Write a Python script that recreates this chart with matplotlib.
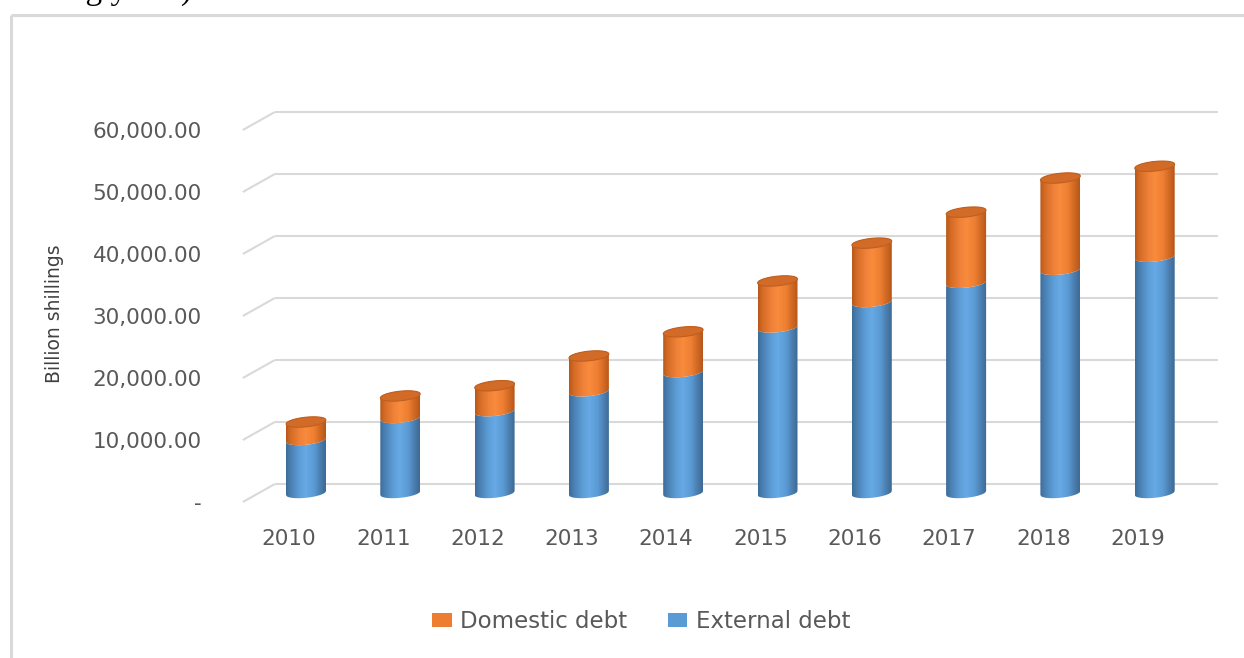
import numpy as np
import matplotlib
matplotlib.use("Agg")
import matplotlib.pyplot as plt
from matplotlib.patches import Polygon, Patch
from matplotlib.lines import Line2D
from matplotlib.colors import LinearSegmentedColormap
from matplotlib.transforms import ScaledTranslation

# ---- data (billion shillings) ----
years = ["2010", "2011", "2012", "2013", "2014", "2015", "2016", "2017", "2018", "2019"]
external_debt = [8550, 12100, 13200, 16400, 19500, 26700, 30800, 33900, 36000, 38100]
domestic_debt = [2900, 3550, 4100, 5700, 6500, 7500, 9500, 11400, 14800, 14600]
tick_values = [0, 10000, 20000, 30000, 40000, 50000, 60000]
tick_labels = ["-", "10,000.00", "20,000.00", "30,000.00", "40,000.00", "50,000.00", "60,000.00"]

W, H, DPI = 1244, 658, 100
fig = plt.figure(figsize=(W / DPI, H / DPI), dpi=DPI)
fig.patch.set_facecolor("white")

# plot area in pixels (bar plane); value 0 sits at pixel row 493
XMIN, XMAX, YMIN, YMAX = -0.5, 9.5, -2000, 63000
scale = 390.6 / 63000                      # pixels per unit of value
ax_l, ax_r = 258.85, 1201.85
ax_b = 493.0 - YMIN * scale
ax_t = 493.0 - YMAX * scale
ax = fig.add_axes([ax_l / W, (H - ax_b) / H, (ax_r - ax_l) / W, (ax_b - ax_t) / H])
ax.set_xlim(XMIN, XMAX)
ax.set_ylim(YMIN, YMAX)
for s in ax.spines.values():
    s.set_visible(False)
ax.set_facecolor("none")

px_x = (XMAX - XMIN) / (ax_r - ax_l)     # data units per pixel (x)
px_y = 1.0 / scale                       # data units per pixel (y)

# depth offsets: back wall is up/right, front edge down/left
dx, dy = 16 * px_x, 9 * px_y
grid_c = "#D9D9D9"
for v in tick_values:
    ax.plot([XMIN + dx, XMAX + dx], [v + dy, v + dy], color=grid_c, lw=1.5,
            clip_on=False, zorder=1, solid_capstyle="butt")
    ax.plot([XMIN - dx, XMIN + dx], [v - dy, v + dy], color=grid_c, lw=1.5,
            clip_on=False, zorder=1, solid_capstyle="butt")

# ---- cylinders ----
blue_cmap = LinearSegmentedColormap.from_list(
    "blue_cyl", [(0.0, "#3C6B97"), (0.12, "#4A80B3"), (0.35, "#5E9FD9"),
                 (0.5, "#66A9E4"), (0.7, "#5B9BD5"), (0.9, "#4777A6"), (1.0, "#3D6A95")])
orange_cmap = LinearSegmentedColormap.from_list(
    "orange_cyl", [(0.0, "#B8581A"), (0.12, "#D46C25"), (0.35, "#F0823A"),
                   (0.5, "#F98B3C"), (0.7, "#EE7F33"), (0.9, "#C9631F"), (1.0, "#B5561B")])

hw = 20 * px_x          # half width of a cylinder
ey = 4.8 * px_y         # half height of the cap ellipse
tilt = 2.0 * px_y       # slight perspective tilt of the ellipses
u = np.linspace(-1, 1, 60)
grad = np.linspace(0, 1, 256).reshape(1, -1)


def front_arc(c, v, uu):
    return np.column_stack([c + hw * uu, v - ey * np.sqrt(1 - uu ** 2) + tilt * uu])


def back_arc(c, v, uu):
    return np.column_stack([c + hw * uu, v + ey * np.sqrt(1 - uu ** 2) + tilt * uu])


def segment(c, a, b, cmap, top):
    lower = front_arc(c, a, u)
    if top:
        upper = back_arc(c, b, u[::-1])
    else:
        upper = front_arc(c, b, u[::-1])
    poly = Polygon(np.vstack([lower, upper]), closed=True, facecolor="none",
                   edgecolor="none", zorder=3)
    ax.add_patch(poly)
    im = ax.imshow(grad, cmap=cmap, aspect="auto", interpolation="bilinear",
                   extent=[c - hw, c + hw, a - 2 * ey, b + 2 * ey], zorder=3)
    im.set_clip_path(poly)


for i, (ext, dom) in enumerate(zip(external_debt, domestic_debt)):
    total = ext + dom
    segment(i, 0, ext, blue_cmap, False)
    segment(i, ext, total, orange_cmap, True)
    cap = np.vstack([front_arc(i, total, u), back_arc(i, total, u[::-1])])
    ax.add_patch(Polygon(cap, closed=True, facecolor="#D26B27", edgecolor="#BF5F1E",
                         lw=0.8, zorder=4))

ax.set_xlim(XMIN, XMAX)
ax.set_ylim(YMIN, YMAX)

# ---- axes text ----
text_c = "#595959"
ax.set_yticks(tick_values)
ax.set_yticklabels(tick_labels, fontsize=15.5, color=text_c, family="DejaVu Sans")
ax.tick_params(axis="y", length=0, pad=57 * 72 / DPI)
for lab in ax.get_yticklabels():
    lab.set_transform(lab.get_transform() + ScaledTranslation(0, -9 / DPI, fig.dpi_scale_trans))

ax.set_xticks(range(len(years)))
ax.set_xticklabels(years, fontsize=15.5, color=text_c, family="DejaVu Sans")
ax.tick_params(axis="x", length=0, pad=(36 + YMIN * scale) * 72 / DPI)
for lab in ax.get_xticklabels():
    lab.set_transform(lab.get_transform() + ScaledTranslation(-17 / DPI, 0, fig.dpi_scale_trans))

fig.text(54 / W, 1 - 314 / H, "Billion shillings", rotation=90, ha="center", va="center",
         fontsize=13.5, color="#404040",
         family=["Liberation Sans Narrow", "DejaVu Sans Condensed", "DejaVu Sans"])

# ---- legend ----
handles = [Patch(facecolor="#ED7D31", edgecolor="none", label="Domestic debt"),
           Patch(facecolor="#5B9BD5", edgecolor="none", label="External debt")]
leg = fig.legend(handles=handles, loc="center", bbox_to_anchor=(641 / W, 1 - 622 / H),
                 ncol=2, frameon=False, handlelength=0.85, handleheight=0.55,
                 handletextpad=0.35, columnspacing=1.8,
                 prop={"family": "DejaVu Sans", "size": 16.5})
for t in leg.get_texts():
    t.set_color(text_c)

# ---- chart frame and caption fragment above it ----
fig.add_artist(Line2D([11 / W, 1.0], [1 - 15 / H, 1 - 15 / H], color=grid_c, lw=2.2,
                      transform=fig.transFigure, solid_capstyle="butt"))
fig.add_artist(Line2D([11 / W, 11 / W], [1 - 15 / H, 0.0], color=grid_c, lw=2.2,
                      transform=fig.transFigure, solid_capstyle="butt"))
fig.text(192 / W, 1 + 1 / H, "during years)", ha="right", va="baseline",
         fontsize=24, color="black", family=["Liberation Serif", "DejaVu Serif"])

fig.savefig("out.png", dpi=DPI, facecolor="white")
